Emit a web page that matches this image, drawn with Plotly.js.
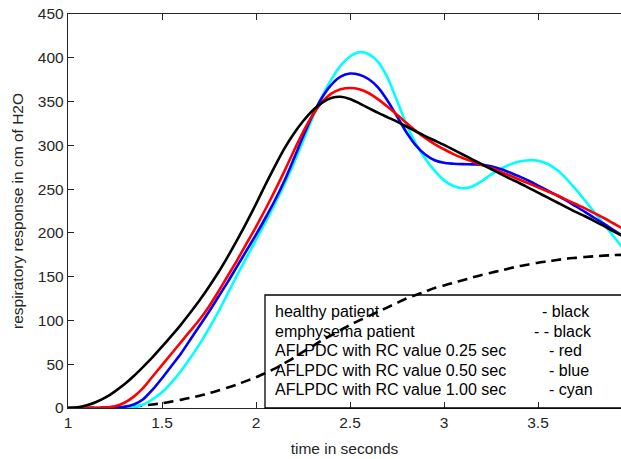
<!DOCTYPE html>
<html>
<head>
<meta charset="utf-8">
<script src="https://cdn.plot.ly/plotly-3.0.1.min.js"></script>
<style>html,body{margin:0;padding:0;background:#fff;}#chart{width:621px;height:459px;}</style>
</head>
<body>
<div id="chart"></div>
<script>
// shared time grid (seconds), 1.00 .. 3.95 step 0.05
const timeS = [1.00,1.05,1.10,1.15,1.20,1.25,1.30,1.35,1.40,1.45,1.50,1.55,1.60,1.65,1.70,1.75,1.80,1.85,1.90,1.95,
               2.00,2.05,2.10,2.15,2.20,2.25,2.30,2.35,2.40,2.45,2.50,2.55,2.60,2.65,2.70,2.75,2.80,2.85,2.90,2.95,
               3.00,3.05,3.10,3.15,3.20,3.25,3.30,3.35,3.40,3.45,3.50,3.55,3.60,3.65,3.70,3.75,3.80,3.85,3.90,3.95];
// healthy patient (black solid)
const healthy = [0,0.7,3,6.8,12,19,27,36.5,47,58,70,82.3,95,108.7,123,138.5,155,173,192,212,
                 233,255,276,296,313,327.5,339.5,348.5,354,355.5,353,348,342.5,337,332,327,321.5,316,310.5,305.5,
                 300.5,295,289.5,284,278.5,273,267.5,262,257,251.5,246,240.5,235,229.5,224,219,213.5,208,202,196.5];
// emphysema patient (black dashed)
const emphysema = [0,0,0.1,0.2,0.4,0.7,1.1,1.8,2.8,4,5.5,7.3,9.3,11.5,14,16.8,20,23.3,27,31,
                   35,40,45,51,57,64,70.5,77,83,89,95,100,105,110,115,120,125,129,133,137,
                   140,143,146,149,152,154.5,157,159.5,162,164,166,167.5,169,170.5,171.5,172.5,173.3,174,174.6,175];
// AFLPDC with RC value 0.25 s (red)
const rc025 = [0,0,0,0.2,0.6,2,6,13,23,36,49,62,75,88,101,116,133,151,169,188,
               207,227,248,270,293,315,334,349,359,364,365.5,364,359.5,352.5,344,335,325.5,316.5,308.5,301.5,
               295.5,290,285.5,281.5,277.5,274,270,265.5,261,256.5,252,247.5,243,238,233,228,222.5,217,211,205];
// AFLPDC with RC value 0.50 s (blue)
const rc050 = [0,0,0,0,0.2,0.5,1.3,4,10,21,34,48,62,78,94,110,127,144,162,180,
               198,217,237,259,284,310,334,354,369,378.5,382,380.5,375.5,366,351,333,315,300,289.5,283,
               280,279,278.5,278.3,278,276,273,269,264.5,259.5,254,248.5,243,237,230.5,224,217,210.5,203.5,196.5];
// AFLPDC with RC value 1.00 s (cyan)
const rc100 = [0,0,0,0,0,0.2,0.5,1.5,4,10,18,29,42,57,73,91,110,131,152,172,
               192,212,233,255,279,305,331,355,375,391,401.5,406.5,404,395,377,351,324,302,285,271,
               260,253.5,251,253,259,266.5,273,278,281.5,283,282.5,279,272,262,250,237,223.5,210,196.5,183];

const xTickVals = [1,1.5,2,2.5,3,3.5];
const xTickText = ["1","1.5","2","2.5","3","3.5"];
const yTickVals = [0,50,100,150,200,250,300,350,400,450];

const legendLeft = ["healthy patient","emphysema patient","AFLPDC with RC value 0.25 sec","AFLPDC with RC value 0.50 sec","AFLPDC with RC value 1.00 sec"];
const legendRight = ["- black","- - black","- red","- blue","- cyan"];

const lineW = 2.6;
const sm = 0.8;
const traces = [
  {x: timeS, y: emphysema, mode:'lines', line:{color:'#000000', width:lineW, dash:'10px,6px', shape:'spline', smoothing:sm}},
  {x: timeS, y: rc100, mode:'lines', line:{color:'#00ffff', width:lineW, shape:'spline', smoothing:sm}},
  {x: timeS, y: rc050, mode:'lines', line:{color:'#0000ff', width:lineW, shape:'spline', smoothing:sm}},
  {x: timeS, y: rc025, mode:'lines', line:{color:'#ff0000', width:lineW, shape:'spline', smoothing:sm}},
  {x: timeS, y: healthy, mode:'lines', line:{color:'#000000', width:lineW, shape:'spline', smoothing:sm}}
];

const plotL = 68, plotR = 621, plotT = 14, plotB = 408;
const pw = plotR - plotL, ph = plotB - plotT;
const px = v => (v - plotL) / pw;
const py = v => (plotB - v) / ph;

const legFont = {family:'Liberation Sans, Arial, sans-serif', size:16, color:'#000'};
const rowY = [311.5, 331, 350.5, 370, 389.5];
const rightX = [540, 531.5, 546.5, 546.5, 546.5];
const annotations = [];
legendLeft.forEach((t,i) => annotations.push({xref:'paper', yref:'paper', x:px(273), y:py(rowY[i]), xanchor:'left', yanchor:'middle', text:t, showarrow:false, font:legFont}));
legendRight.forEach((t,i) => annotations.push({xref:'paper', yref:'paper', x:px(rightX[i]), y:py(rowY[i]), xanchor:'left', yanchor:'middle', text:t, showarrow:false, font:legFont}));

const axisFont = {family:'Liberation Sans, Arial, sans-serif', size:15.5, color:'#262626'};
const titleFont = {family:'Liberation Sans, Arial, sans-serif', size:15.5, color:'#262626'};
const layout = {
  width: 621, height: 459,
  margin: {l: plotL, r: 0, t: plotT, b: 459 - plotB},
  paper_bgcolor:'#fff', plot_bgcolor:'#fff',
  showlegend: false,
  font: axisFont,
  xaxis: {
    range: [1, 1 + (plotR - plotL) / 188], tickvals: xTickVals, ticktext: xTickText,
    ticks: 'inside', ticklen: 6, tickwidth: 1, tickcolor: '#262626',
    showline: true, linecolor: '#262626', linewidth: 1.2, mirror: 'ticks',
    showgrid: false, zeroline: false, tickfont: axisFont,
    title: {text: 'time in seconds', font: titleFont, standoff: 13}
  },
  yaxis: {
    range: [0, 450], tickvals: yTickVals,
    ticks: 'inside', ticklen: 6, tickwidth: 1, tickcolor: '#262626',
    showline: true, linecolor: '#262626', linewidth: 1.2, mirror: false,
    showgrid: false, zeroline: false, tickfont: axisFont,
    title: {text: 'respiratory response in cm of H2O', font: titleFont, standoff: 10}
  },
  shapes: [
    {type:'rect', xref:'paper', yref:'paper', x0: px(265), x1: 1.05, y0: 0, y1: py(295), line:{color:'#000', width:1.3}, fillcolor:'rgba(0,0,0,0)', layer:'above'}
  ],
  annotations: annotations
};

Plotly.newPlot('chart', traces, layout, {staticPlot:true, displayModeBar:false});
</script>
</body>
</html>
